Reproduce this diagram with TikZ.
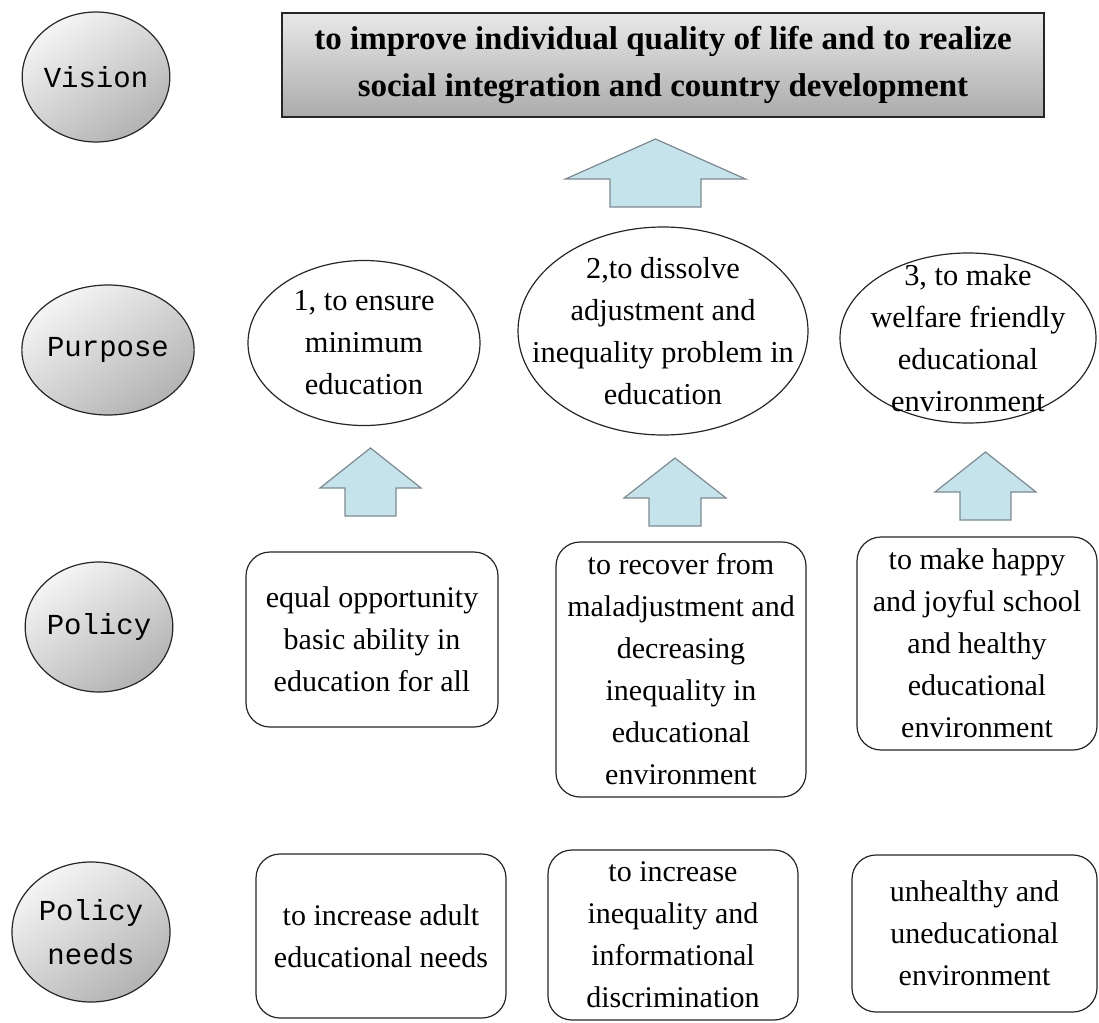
\documentclass[tikz,border=0pt]{standalone}
\usepackage{fontspec}
\setmainfont{Liberation Serif}
\newfontfamily\rowfont{Liberation Mono}
\usepackage{xcolor}
\usepackage{tikz}
\usetikzlibrary{shapes.geometric}

\definecolor{arrowfill}{HTML}{C4E3EB}
\definecolor{arrowline}{HTML}{7D8A92}

\begin{document}
\begin{tikzpicture}[
    x=0.5pt, y=-0.5pt,
    rowlabel/.style={ellipse, draw=black!85, line width=0.6pt, top color=black!4, bottom color=black!30, shading angle=35, inner sep=0pt, align=center, font=\rowfont\fontsize{14.5}{22}\selectfont},
    visionbox/.style={draw=black!85, line width=0.7pt, top color=black!9, middle color=black!10, bottom color=black!33, minimum width=381pt, minimum height=52pt, inner sep=0pt, align=center, font=\fontsize{16.5}{23.5}\selectfont\bfseries},
    aim/.style={ellipse, draw=black!85, line width=0.6pt, inner sep=0pt},
    aimtext/.style={align=center, inner sep=1pt, font=\fontsize{15.2}{21}\selectfont},
    roundbox/.style={draw=black!85, line width=0.6pt, rounded corners=12pt, inner sep=2pt, align=center, font=\fontsize{15}{21}\selectfont},
    blockline/.style={fill=arrowfill, draw=arrowline, line width=0.6pt, line join=miter},
    pics/blockup/.style 2 args={code={
        \draw[blockline] (0,0) -- (#1,40) -- (#2,40) -- (#2,68) -- (-#2,68) -- (-#2,40) -- (-#1,40) -- cycle;
    }}
]
    \useasboundingbox (0,0) rectangle (1099,1023);

    % Row labels
    \node[rowlabel, minimum width=71pt, minimum height=65pt] (vision) at (96,77) {Vision};
    \node[rowlabel, minimum width=80pt, minimum height=65pt] (purpose) at (108,350) {Purpose};
    \node[rowlabel, minimum width=71pt, minimum height=65pt] (policy) at (99,627) {Policy};
    \node[rowlabel, minimum width=79pt, minimum height=70pt] (needs) at (91,932) {Policy\\needs};

    % Vision
    \node[visionbox] (goal) at (663,65) {to improve individual quality of life and to realize\\social integration and country development};
    \pic at (655.5,139) {blockup={90}{45.5}};

    % Purposes
    \node[aim, minimum width=116pt, minimum height=82.5pt] (aim1) at (364,343) {};
    \node[aimtext] (aim1text) at (aim1) {1, to ensure\\minimum\\education};
    \node[aim, minimum width=145pt, minimum height=104pt] (aim2) at (663,331) {};
    \node[aimtext] (aim2text) at (aim2) {2,to dissolve\\adjustment and\\inequality problem in\\education};
    \node[aim, minimum width=128pt, minimum height=85pt] (aim3) at (968,338) {};
    \node[aimtext] (aim3text) at (aim3) {3, to make\\welfare friendly\\educational\\environment};

    \pic at (370.5,448) {blockup={50.5}{25.5}};
    \pic at (675,458) {blockup={51}{26}};
    \pic at (985.5,452) {blockup={50.5}{25.5}};

    % Policies
    \node[roundbox, minimum width=126pt, minimum height=87.5pt] (pol1) at (372,639.5) {equal opportunity\\basic ability in\\education for all};
    \node[roundbox, minimum width=125pt, minimum height=127.5pt] (pol2) at (681,669.5) {to recover from\\maladjustment and\\decreasing\\inequality in\\educational\\environment};
    \node[roundbox, minimum width=120pt, minimum height=106.5pt] (pol3) at (977,643.5) {to make happy\\and joyful school\\and healthy\\educational\\environment};

    % Policy needs
    \node[roundbox, minimum width=125pt, minimum height=82pt] (need1) at (381,936) {to increase adult\\educational needs};
    \node[roundbox, minimum width=125pt, minimum height=85pt] (need2) at (673,935) {to increase\\inequality and\\informational\\discrimination};
    \node[roundbox, minimum width=122.5pt, minimum height=78.5pt] (need3) at (974.5,933.5) {unhealthy and\\uneducational\\environment};

\end{tikzpicture}
\end{document}
